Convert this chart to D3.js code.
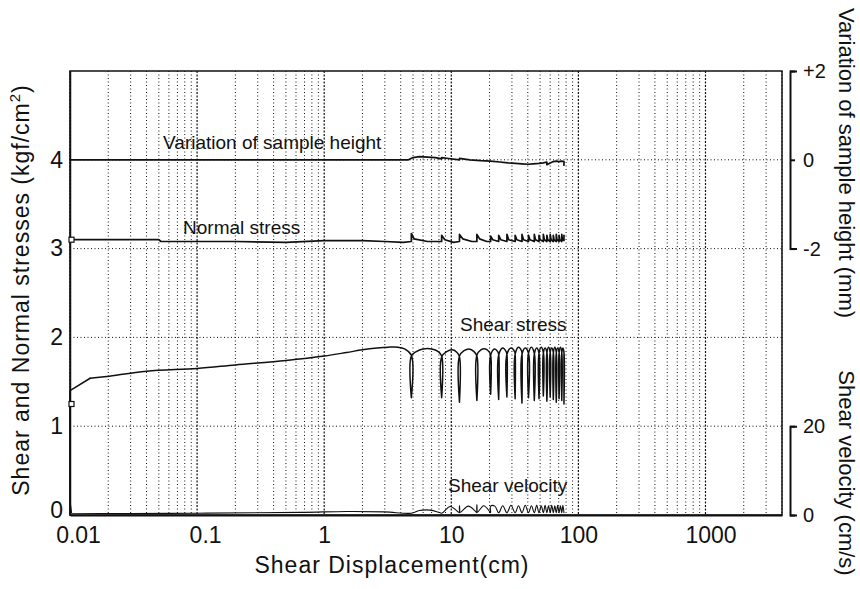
<!DOCTYPE html>
<html>
<head>
<meta charset="utf-8">
<script src="https://cdn.jsdelivr.net/npm/d3@7"></script>
<style>
  html, body { margin: 0; padding: 0; background: #fff; }
  svg { display: block; }
  text { font-family: "Liberation Sans", Arial, Helvetica, sans-serif; fill: #111; }
</style>
</head>
<body>
<svg id="chart" width="860" height="589"></svg>
<script>
// Shear displacement (cm) vs. stresses, sample height and velocity (ring-shear record)

const xTickValues = [0.01, 0.1, 1, 10, 100, 1000];
const xTickLabels = ["0.01", "0.1", "1", "10", "100", "1000"];
const yTickValues = [0, 1, 2, 3, 4];
const heightTickValues = [2, 0, -2];
const heightTickLabels = ["+2", "0", "-2"];
const velocityTickValues = [20, 0];
const velocityTickLabels = ["20", "0"];

// shear stress, kgf/cm2  [displacement cm, stress]
const shearStress = [
  [0.01,0],[0.01,1.40],[0.0144,1.54],[0.0195,1.56],[0.04,1.62],[0.1,1.65],[0.2,1.69],
  [0.5,1.74],[1.0,1.79],[1.5,1.83],[2.0,1.86],[2.6,1.88],[3.2,1.89],[3.8,1.89],[4.3,1.87],[4.85,1.80],
  [4.85,1.32],[4.85,1.79],[5.3,1.84],[6.0,1.87],[7.0,1.87],[7.9,1.84],[8.4,1.79],
  [8.4,1.32],[8.4,1.78],[9.2,1.84],[10.2,1.86],[11.1,1.83],[11.6,1.78],
  [11.6,1.27],[11.6,1.79],[12.6,1.85],[13.8,1.87],[15.1,1.84],[15.9,1.79],
  [15.9,1.29],[15.9,1.80],[17.1,1.86],[18.6,1.87],[19.8,1.84],[20.4,1.80],
  [20.4,1.36],[20.4,1.80],[21.9,1.87],[23.2,1.84],[23.6,1.81],
  [23.6,1.30],[23.6,1.80],[25.4,1.88],[27.0,1.84],[27.4,1.81],
  [27.4,1.33],[27.4,1.81],[29.5,1.88],[31.5,1.84],[31.8,1.81],
  [31.8,1.31],[31.8,1.81],[33.8,1.89],[35.7,1.85],[36.0,1.82],
  [36.0,1.26],[36.0,1.81],[38.2,1.88],[40.5,1.82],
  [40.5,1.32],[40.5,1.82],[42.7,1.89],[45.0,1.82],
  [45.0,1.29],[45.0,1.81],[47.0,1.88],[49.0,1.82],
  [49.0,1.31],[49.0,1.82],[51.0,1.89],[53.0,1.83],
  [53.0,1.34],[53.0,1.82],[54.7,1.88],[56.5,1.83],
  [56.5,1.28],[56.5,1.82],[58.2,1.89],[60.0,1.83],
  [60.0,1.33],[60.0,1.83],[61.7,1.88],[63.5,1.83],
  [63.5,1.30],[63.5,1.82],[65.2,1.89],[67.0,1.83],
  [67.0,1.27],[67.0,1.82],[68.7,1.88],[70.5,1.83],
  [70.5,1.31],[70.5,1.82],[72.2,1.89],[74.0,1.83],
  [74.0,1.29],[74.0,1.82],[75.5,1.88],[77.0,1.83],
  [77.0,1.25],[77.0,1.84]
];

// normal stress, kgf/cm2
const normalStress = [
  [0.01,3.10],[0.05,3.10],[0.052,3.08],[0.2,3.08],[0.5,3.07],[1.0,3.09],[2.0,3.09],[3.0,3.08],[4.2,3.07],[4.85,3.08],
  [4.85,3.17],[5.1,3.11],[6.5,3.08],[8.4,3.08],
  [8.4,3.15],[8.9,3.10],[10.4,3.07],[11.6,3.08],
  [11.6,3.16],[12.3,3.11],[14.5,3.08],[15.9,3.08],
  [15.9,3.16],[16.7,3.11],[19.0,3.08],[20.4,3.08],
  [20.4,3.14],[21.2,3.10],[23.6,3.08],
  [23.6,3.15],[24.5,3.10],[27.4,3.08],
  [27.4,3.16],[28.3,3.10],[31.8,3.08],
  [31.8,3.15],[32.8,3.10],[36.0,3.08],
  [36.0,3.16],[37.0,3.10],[40.5,3.08],
  [40.5,3.15],[41.6,3.10],[45.0,3.08],
  [45.0,3.16],[46.0,3.10],[49.0,3.08],
  [49.0,3.15],[50.0,3.10],[53.0,3.08],
  [53.0,3.16],[54.0,3.10],[56.5,3.08],
  [56.5,3.15],[57.4,3.10],[60.0,3.08],
  [60.0,3.16],[61.0,3.10],[63.5,3.08],
  [63.5,3.15],[64.4,3.10],[67.0,3.08],
  [67.0,3.16],[67.9,3.10],[70.5,3.08],
  [70.5,3.15],[71.4,3.10],[74.0,3.08],
  [74.0,3.16],[74.9,3.10],[77.0,3.09],[77.0,3.15]
];

// variation of sample height, mm
const sampleHeight = [
  [0.01,0],[4.6,0],[5.0,0.05],[5.6,0.07],[6.5,0.06],[7.5,0.05],[8.4,0.02],[8.4,0.05],[9.5,0.03],
  [11.6,0.0],[11.6,0.03],[14,0.0],[17,-0.02],[20.4,-0.03],[24,-0.05],[28,-0.07],[32,-0.08],
  [36,-0.09],[40,-0.10],[44,-0.09],[49,-0.08],[53,-0.07],[56.5,-0.05],[56.5,-0.11],[60,-0.07],
  [63.5,-0.04],[67,-0.03],[70.5,-0.04],[74,-0.03],[77,-0.04],[77,-0.12]
];

// shear velocity, cm/s
const shearVelocity = [
  [0.01,0],[0.01,3.2],[0.0103,0.4],[0.03,0.3],[0.1,0.4],[0.3,0.5],[0.7,0.6],[1.5,0.8],[3.0,0.7],[4.85,0.4],
  [5.6,1.0],[6.8,1.1],[8.0,0.6],[8.4,0.4],
  [9.8,1.9],[11.2,0.8],[11.6,0.5],[11.6,2.1],[11.7,0.6],
  [13.6,2.0],[15.5,0.8],[15.9,0.5],[15.9,2.3],[16.0,0.6],
  [18.0,2.1],[20.0,0.8],[20.4,0.5],[20.4,2.0],
  [22.0,2.0],[23.6,0.5],
  [25.4,2.1],[27.4,0.5],
  [29.5,2.2],[31.8,0.5],
  [33.8,2.1],[36.0,0.5],
  [38.2,2.2],[40.5,0.5],
  [42.7,2.1],[45.0,0.5],
  [47.0,2.2],[49.0,0.5],
  [51.0,2.1],[53.0,0.5],
  [54.7,2.2],[56.5,0.5],
  [58.2,2.1],[60.0,0.5],
  [61.7,2.2],[63.5,0.5],
  [65.2,2.1],[67.0,0.5],
  [68.7,2.2],[70.5,0.5],
  [72.2,2.1],[74.0,0.5],
  [75.5,2.2],[77.0,0.5]
];

// start-of-record markers on the stress traces
const startMarkers = [[0.01,3.10],[0.01,1.25]];

const svg = d3.select("#chart");
const plotLeft = 70, plotRight = 782, plotTop = 71, plotBottom = 515;
const ink = "#111";

const x = d3.scaleLog().domain([0.01, 4000]).range([plotLeft, plotRight]);
const y = d3.scaleLinear().domain([0, 5]).range([plotBottom, plotTop]);
// right-hand scales share the plot area
const yH = d3.scaleLinear().domain([-2, 2]).range([y(3), y(5)]);
const yV = d3.scaleLinear().domain([0, 20]).range([y(0), y(1)]);

// grid
const grid = svg.append("g");
x.ticks().forEach(t => {
  const major = Math.abs(Math.log10(t) - Math.round(Math.log10(t))) < 1e-9;
  grid.append("line")
    .attr("x1", x(t)).attr("x2", x(t)).attr("y1", plotTop).attr("y2", plotBottom)
    .attr("stroke", ink)
    .attr("stroke-width", major ? 1.2 : 1)
    .attr("stroke-dasharray", major ? "2,1.5" : "1,2.5");
});
[1, 2, 3, 4].forEach(v => {
  grid.append("line")
    .attr("x1", plotLeft).attr("x2", plotRight).attr("y1", y(v)).attr("y2", y(v))
    .attr("stroke", ink).attr("stroke-width", 1).attr("stroke-dasharray", "1,2.5");
});

// frame
svg.append("rect").attr("x", plotLeft).attr("y", plotTop)
  .attr("width", plotRight - plotLeft).attr("height", plotBottom - plotTop)
  .attr("fill", "none").attr("stroke", ink).attr("stroke-width", 1.5);

// axes
const fontTick = 23;
const gx = svg.append("g").attr("transform", `translate(0,${plotBottom})`)
  .call(d3.axisBottom(x).tickValues(xTickValues)
    .tickFormat((d, i) => xTickLabels[i]).tickSize(0).tickPadding(12));
gx.select(".domain").attr("stroke", ink).attr("stroke-width", 2);
gx.selectAll("text").attr("font-size", fontTick).style("font-family", "Liberation Sans, Arial, sans-serif").attr("fill", ink)
  .attr("dx", d => (d < 1 ? 8 : d >= 1000 ? 5 : 0));

const gy = svg.append("g").attr("transform", `translate(${plotLeft},0)`)
  .call(d3.axisLeft(y).tickValues(yTickValues).tickFormat(d3.format("d")).tickSize(0).tickPadding(7));
gy.select(".domain").attr("stroke", ink).attr("stroke-width", 1.5);
gy.selectAll("text").attr("font-size", fontTick).style("font-family", "Liberation Sans, Arial, sans-serif").attr("fill", ink);
// the zero label sits just above the baseline so it clears the "0.01" below it
gy.selectAll(".tick").filter(d => d === 0).select("text").attr("dy", "0.1em");

// right-hand bracket scales
const bx = 790;
const gH = svg.append("g").attr("transform", `translate(${bx},0)`)
  .call(d3.axisRight(yH).tickValues(heightTickValues)
    .tickFormat((d, i) => heightTickLabels[i]).tickSizeInner(5).tickSizeOuter(7).tickPadding(8));
const gV = svg.append("g").attr("transform", `translate(${bx},0)`)
  .call(d3.axisRight(yV).tickValues(velocityTickValues)
    .tickFormat((d, i) => velocityTickLabels[i]).tickSizeInner(5).tickSizeOuter(7).tickPadding(8));
[gH, gV].forEach(g => {
  g.select(".domain").attr("stroke", ink).attr("stroke-width", 2);
  g.selectAll(".tick line").attr("stroke", ink).attr("stroke-width", 2);
  g.selectAll("text").attr("font-size", 20).style("font-family", "Liberation Sans, Arial, sans-serif").attr("fill", ink);
});

// traces: the initial loading stroke is straight, the rest is smoothed
const lineMain = d3.line().x(d => x(d[0])).y(d => y(d[1]));
const lineStress = d3.line().x(d => x(d[0])).y(d => y(d[1])).curve(d3.curveCatmullRom.alpha(0.5));
const lineHeight = d3.line().x(d => x(d[0])).y(d => yH(d[1]));
const lineVelLin = d3.line().x(d => x(d[0])).y(d => yV(d[1]));
const lineVel = d3.line().x(d => x(d[0])).y(d => yV(d[1])).curve(d3.curveCatmullRom.alpha(0.5));

function trace(d, gen, w) {
  svg.append("path").attr("d", gen(d))
    .attr("fill", "none").attr("stroke", ink).attr("stroke-width", w)
    .attr("stroke-linejoin", "round").attr("stroke-linecap", "round");
}
trace(sampleHeight, lineHeight, 1.7);
trace(normalStress, lineMain, 1.7);
trace(shearStress.slice(0, 3), lineMain, 1.5);
trace(shearStress.slice(2), lineStress, 1.5);
trace(shearVelocity.slice(0, 4), lineVelLin, 1.1);
trace(shearVelocity.slice(3), lineVel, 1.1);

svg.append("g").selectAll("rect").data(startMarkers).join("rect")
  .attr("x", d => x(d[0]) - 1).attr("y", d => y(d[1]) - 2.5)
  .attr("width", 5).attr("height", 5)
  .attr("fill", "#fff").attr("stroke", ink).attr("stroke-width", 1.2);

// trace labels
const labels = [
  { text: "Variation of sample height", x: 0.054, y: 4.12 },
  { text: "Normal stress", x: 0.0775, y: 3.16 },
  { text: "Shear stress", x: 11.7, y: 2.07 },
  { text: "Shear velocity", x: 9.42, y: 0.26 }
];
svg.append("g").selectAll("text").data(labels).join("text")
  .attr("x", d => x(d.x)).attr("y", d => y(d.y))
  .attr("font-size", 19).text(d => d.text);

// axis titles
svg.append("text")
  .attr("transform", "translate(392,573)")
  .attr("text-anchor", "middle").attr("font-size", 23).attr("letter-spacing", 1)
  .text("Shear Displacement(cm)");

const yTitle = svg.append("text")
  .attr("transform", "translate(29,290) rotate(-90)")
  .attr("text-anchor", "middle").attr("font-size", 23).attr("letter-spacing", 1);
yTitle.append("tspan").text("Shear and Normal stresses (kgf/cm");
yTitle.append("tspan").attr("font-size", 15).attr("dy", -9).text("2");
yTitle.append("tspan").attr("dy", 9).text(")");

svg.append("text")
  .attr("transform", "translate(839,163) rotate(90)")
  .attr("text-anchor", "middle").attr("font-size", 22)
  .text("Variation of sample height (mm)");
svg.append("text")
  .attr("transform", "translate(839,473) rotate(90)")
  .attr("text-anchor", "middle").attr("font-size", 22)
  .text("Shear velocity (cm/s)");
</script>
</body>
</html>
